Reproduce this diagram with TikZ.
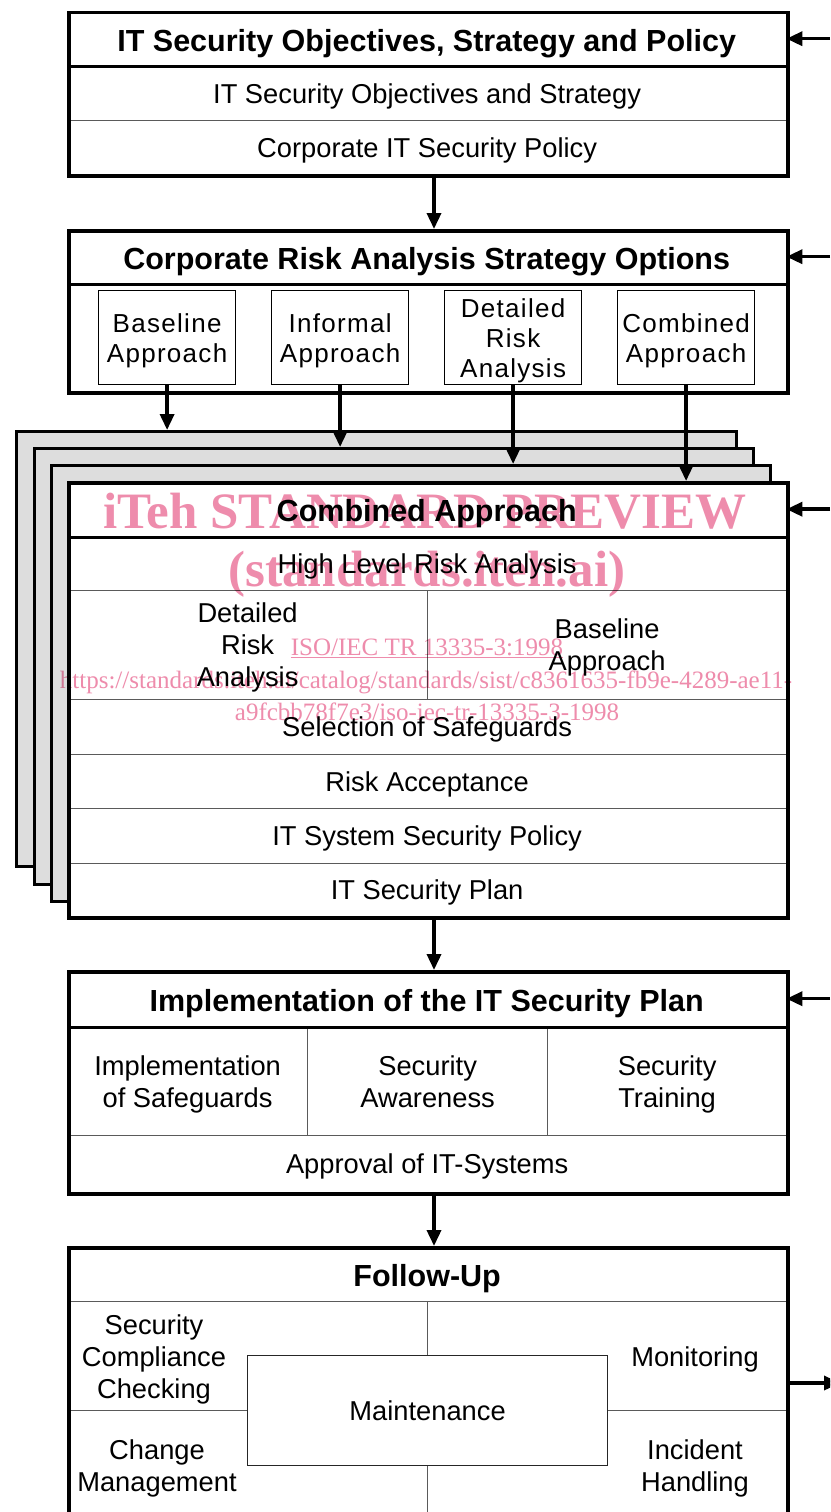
\documentclass[tikz,border=0pt]{standalone}
\usepackage{fontspec}
\setmainfont{Liberation Sans}
\newfontfamily\wmfont{Liberation Serif}
\usetikzlibrary{arrows.meta}

\definecolor{stackgray}{RGB}{221,221,221}
\definecolor{rulegray}{RGB}{90,90,90}
\definecolor{wmpink}{RGB}{238,140,172}

% struts that keep the lines of every cell on the same baselines
\newcommand\topstrut{\rule{0pt}{25pt}}
\newcommand\botstrut{\rule[-5.7pt]{0pt}{5.7pt}}

\tikzset{
	frame/.style={draw, line width=3.5pt, anchor=north west, inner sep=0pt},
	sheet/.style={frame, line width=3pt, fill=stackgray},
	cell/.style={draw=rulegray, line width=1.2pt, fill=white, anchor=north west, inner sep=0pt, align=center, font=\fontsize{27.3}{32}\selectfont},
	headcell/.style={draw=none, fill=white, anchor=north west, inner sep=0pt, text height=25pt, text depth=0pt, font=\bfseries\fontsize{30.5}{34}\selectfont},
	option/.style={draw, line width=1.2pt, fill=white, anchor=north west, inner sep=0pt, align=center, minimum width=137pt, minimum height=94pt, font=\fontsize{26}{30}\selectfont\addfontfeatures{LetterSpace=5}},
	txt/.style={align=center, inner sep=0pt, font=\fontsize{27.3}{32}\selectfont},
	sep/.style={line width=3.5pt},
	arr/.style={line width=3.5pt, -{Triangle[length=16pt,width=14pt]}},
	wm/.style={text=wmpink, inner sep=0pt, anchor=base, font=\wmfont\bfseries\fontsize{51}{51}\selectfont},
	wmsmall/.style={wm, font=\wmfont\fontsize{25}{25}\selectfont},
}

\begin{document}
\begin{tikzpicture}[x=1pt, y=-1pt]
	\useasboundingbox (0,0) rectangle (830,1512);
	\clip (0,0) rectangle (830,1512);
	\coordinate (mid) at (434,0);
	\coordinate (edge) at (830,0);
	
	% objectives, strategy and policy
	\node[headcell, minimum width=719pt, minimum height=55pt] (objhead) at (67,11) {IT Security Objectives, Strategy and Policy};
	\node[cell, minimum width=719pt, minimum height=54pt] (objstrat) at (67,66) {\topstrut IT Security Objectives and Strategy\botstrut};
	\node[cell, minimum width=719pt, minimum height=54pt] (corppol) at (67,120) {\topstrut Corporate IT Security Policy\botstrut};
	\draw[sep] (objhead.south west) -- (objhead.south east);
	\node[frame, minimum width=719pt, minimum height=163pt] (objbox) at (67,11) {};
	
	% strategy options
	\node[headcell, minimum width=719pt, minimum height=55pt] (riskhead) at (67,229) {Corporate Risk Analysis Strategy Options};
	\draw[sep] (riskhead.south west) -- (riskhead.south east);
	\node[option] (optbase) at (98,290) {\topstrut Baseline\\Approach\botstrut};
	\node[option] (optinf) at (271,290) {\topstrut Informal\\Approach\botstrut};
	\node[option] (optdet) at (444,290) {\topstrut Detailed\\Risk\\Analysis\botstrut};
	\node[option] (optcomb) at (617,290) {\topstrut Combined\\Approach\botstrut};
	\node[frame, minimum width=719pt, minimum height=162pt] (riskbox) at (67,229) {};
	
	% stacked sheets behind the combined approach
	\node[sheet, minimum width=720pt, minimum height=435pt] (sheeta) at (15,430) {};
	\node[sheet, minimum width=719pt, minimum height=436pt] (sheetb) at (33,447) {};
	\node[sheet, minimum width=719pt, minimum height=436pt] (sheetc) at (50,464) {};
	
	\node[headcell, minimum width=719pt, minimum height=56pt] (combhead) at (67,481) {Combined Approach};
	\node[cell, minimum width=719pt, minimum height=53pt] (hlra) at (67,537) {\topstrut High Level Risk Analysis\botstrut};
	\node[cell, minimum width=360pt, minimum height=109pt] (detra) at (67,590) {\topstrut Detailed\\Risk\\Analysis\botstrut};
	\node[cell, minimum width=359pt, minimum height=109pt] (baseapp) at (427,590) {\topstrut Baseline\\Approach\botstrut};
	\node[cell, minimum width=719pt, minimum height=55pt] (selsafe) at (67,699) {\topstrut Selection of Safeguards\botstrut};
	\node[cell, minimum width=719pt, minimum height=54pt] (riskacc) at (67,754) {\topstrut Risk Acceptance\botstrut};
	\node[cell, minimum width=719pt, minimum height=55pt] (syspol) at (67,808) {\topstrut IT System Security Policy\botstrut};
	\node[cell, minimum width=719pt, minimum height=53pt] (secplan) at (67,863) {\topstrut IT Security Plan\botstrut};
	\draw[sep] (combhead.south west) -- (combhead.south east);
	\node[frame, minimum width=719pt, minimum height=435pt] (combbox) at (67,481) {};
	
	% implementation
	\node[headcell, minimum width=719pt, minimum height=57pt] (implhead) at (67,970) {Implementation of the IT Security Plan};
	\node[cell, minimum width=240pt, minimum height=108pt] (implsafe) at (67,1027) {\topstrut Implementation\\of Safeguards\botstrut};
	\node[cell, minimum width=240pt, minimum height=108pt] (secaware) at (307,1027) {\topstrut Security\\Awareness\botstrut};
	\node[cell, minimum width=239pt, minimum height=108pt] (sectrain) at (547,1027) {\topstrut Security\\Training\botstrut};
	\node[cell, minimum width=719pt, minimum height=57pt] (approval) at (67,1135) {\topstrut Approval of IT-Systems\botstrut};
	\draw[sep] (implhead.south west) -- (implhead.south east);
	\node[frame, minimum width=719pt, minimum height=222pt] (implbox) at (67,970) {};
	
	% follow-up
	\node[headcell, draw=rulegray, line width=1.2pt, minimum width=719pt, minimum height=55pt] (fuhead) at (67,1246) {Follow-Up};
	\node[cell, minimum width=360pt, minimum height=109pt] (quadtl) at (67,1301) {};
	\node[cell, minimum width=359pt, minimum height=109pt] (quadtr) at (427,1301) {};
	\node[cell, minimum width=360pt, minimum height=130pt] (quadbl) at (67,1410) {};
	\node[cell, minimum width=359pt, minimum height=130pt] (quadbr) at (427,1410) {};
	\node[cell, draw=black!85, minimum width=360pt, minimum height=110pt] (maint) at (247,1355) {\topstrut Maintenance\botstrut};
	\node[txt] (compl) at (154,1357) {\topstrut Security\\Compliance\\Checking\botstrut};
	\node[txt] (monit) at (695,1357) {\topstrut Monitoring\botstrut};
	\node[txt] (change) at (157,1466) {\topstrut Change\\Management\botstrut};
	\node[txt] (incid) at (695,1466) {\topstrut Incident\\Handling\botstrut};
	\node[frame, minimum width=719pt, minimum height=300pt] (fubox) at (67,1246) {};
	
	% flow arrows
	\draw[arr] (objbox.south -| mid) -- (riskbox.north -| mid);
	\draw[arr] (optbase.south) -- (optbase.south |- sheeta.north);
	\draw[arr] (optinf.south) -- (optinf.south |- sheetb.north);
	\draw[arr] (optdet.south) -- (optdet.south |- sheetc.north);
	\draw[arr] (optcomb.south) -- (optcomb.south |- combbox.north);
	\draw[arr] (combbox.south -| mid) -- (implbox.north -| mid);
	\draw[arr] (implbox.south -| mid) -- (fubox.north -| mid);
	
	% arrows on the right side
	\draw[arr] (objhead.east -| edge) -- (objhead.east);
	\draw[arr] (riskhead.east -| edge) -- (riskhead.east);
	\draw[arr] (combhead.east -| edge) -- (combhead.east);
	\draw[arr] (implhead.east -| edge) -- (implhead.east);
	\coordinate (fuout) at (786,1383);
	\coordinate (fuend) at (840,1383);
	\draw[arr] (fuout) -- (fuend);
	
	% preview stamp
	\begin{scope}[blend mode=multiply]
		\node[wm] (wmtitle) at (425,528) {iTeh STANDARD PREVIEW};
		\node[wm] (wmsite) at (427,586) {(standards.iteh.ai)};
		\node[wmsmall] (wmref) at (427,655) {\underline{ISO/IEC TR 13335-3:1998}};
		\node[wmsmall] (wmurla) at (426,688) {https://standards.iteh.ai/catalog/standards/sist/c8361635-fb9e-4289-ae11-};
		\node[wmsmall] (wmurlb) at (427,720) {a9fcbb78f7e3/iso-iec-tr-13335-3-1998};
	\end{scope}
\end{tikzpicture}
\end{document}
